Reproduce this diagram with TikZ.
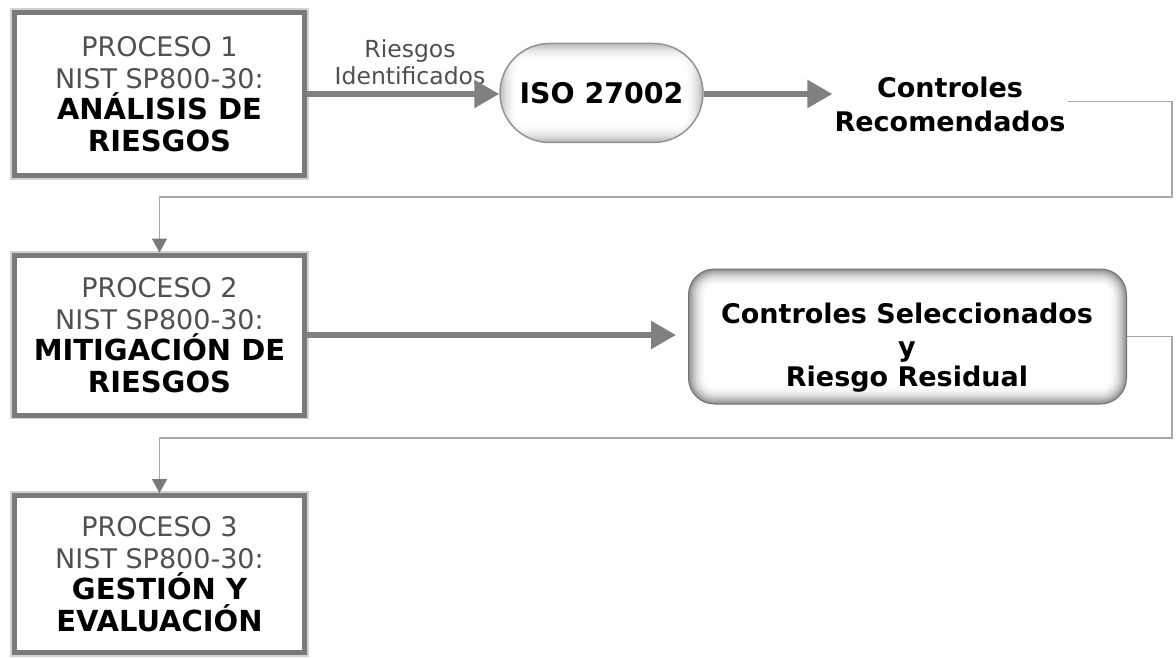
\documentclass[tikz,border=0pt]{standalone}
\usepackage{fontspec}
\setmainfont{DejaVu Sans}
\usetikzlibrary{arrows.meta,shapes.misc,calc}
\definecolor{lighttext}{HTML}{505050}
\definecolor{boxgray}{HTML}{7A7A7A}
\definecolor{arrowgray}{HTML}{808080}
\definecolor{thingray}{HTML}{A8A8A8}
\definecolor{tipgray}{HTML}{7A7A7A}
\newcommand\procfont{\bfseries\fontsize{29}{31.5}\selectfont}
\begin{document}
\begin{tikzpicture}[x=1pt,y=-1pt,
  procbox/.style={draw=boxgray, line width=5pt, fill=white, minimum width=290pt,
    preaction={draw=gray!35, line width=8.5pt},
    align=center, inner sep=0pt, text=lighttext,
    font=\fontsize{27}{31.5}\selectfont},
  boldtext/.style={font=\bfseries\fontsize{27}{34}\selectfont, text=black, align=center, inner sep=2pt},
  thickarrow/.style={draw=arrowgray, line width=5.5pt, -{Triangle[length=25pt,width=27pt]}},
  thinconn/.style={draw=thingray, line width=1.5pt, -{Triangle[length=14pt,width=15pt,color=tipgray]}},
  glow/.style={path picture={
    \foreach \i in {0,...,18} {
      \pgfmathsetmacro\c{100-#1*(1-\i/18)^2}
      \pgfmathsetmacro\r{max(26-\i,6)}
      \fill[white!\c!gray, rounded corners=\r pt]
        ($(path picture bounding box.south west)+(\i,-\i)$) rectangle
        ($(path picture bounding box.north east)+(-\i,\i)$);
    }}},
]
\useasboundingbox (0,0) rectangle (1176,658);

% process boxes
\node[procbox, minimum height=163pt] (p1) at (159.5,94)
  {\rule{0pt}{6pt}PROCESO 1\\NIST SP800-30:\\{\procfont\color{black}ANÁLISIS DE}\\{\procfont\color{black}RIESGOS}};
\node[procbox, minimum height=160pt] (p2) at (159.5,335)
  {\rule{0pt}{6pt}PROCESO 2\\NIST SP800-30:\\{\procfont\color{black}MITIGACIÓN DE}\\{\procfont\color{black}RIESGOS}};
\node[procbox, minimum height=157pt] (p3) at (159.5,574)
  {\rule{0pt}{6pt}PROCESO 3\\NIST SP800-30:\\{\procfont\color{black}GESTIÓN Y}\\{\procfont\color{black}EVALUACIÓN}};

% ISO 27002
\node[rounded rectangle, draw=gray!85, line width=1.5pt, minimum width=203pt,
  minimum height=99pt, inner sep=0pt, glow=55,
  font=\bfseries\fontsize{28.4}{32}\selectfont] (iso) at (601.5,93) {ISO 27002};

% Controles recomendados
\node[boldtext] (cr) at (950,104.5) {Controles\\Recomendados};

% Controles seleccionados box
\node[rounded corners=26pt, draw=gray!90!black, line width=1pt, minimum width=438pt,
  minimum height=135pt, inner sep=0pt, glow=88] (cs) at (907.5,336.5) {};
\node[boldtext] (cst) at (907,348) {Controles Seleccionados\\[-1pt]y\\[-4pt]Riesgo Residual};

% label
\node[text=lighttext, font=\fontsize{23.5}{27}\selectfont, align=center, inner sep=0pt] (lbl) at (410,62)
  {Riesgos\\Identificados};

% thick arrows
\draw[thickarrow] (p1.east) -- (p1.east -| iso.west);
\draw[thickarrow] (iso.east |- 0,94) -- (cr.west |- 0,94);
\draw[thickarrow, shorten >=12pt] (p2.east) -- (p2.east -| cs.west);

% thin connectors
\coordinate (r1) at (1172,197);
\coordinate (r2) at (1172,438);
\draw[thinconn] ($(cr.east)+(0,-3)$) -| (r1) -| (p2.north);
\draw[thinconn] (cs.east) -| (r2) -| (p3.north);
\end{tikzpicture}
\end{document}
